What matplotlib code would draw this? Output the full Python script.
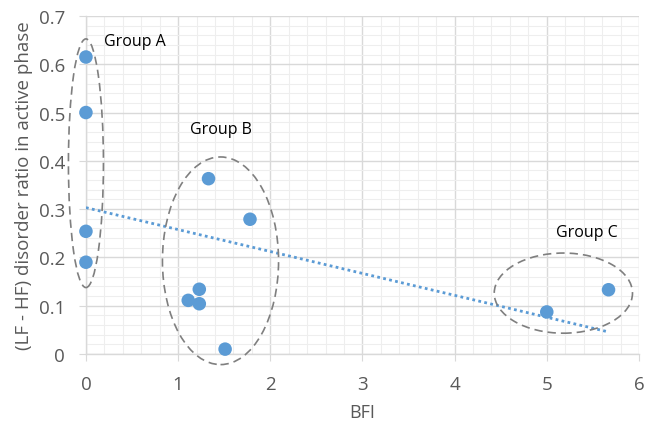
import numpy as np
import matplotlib
matplotlib.use("Agg")
import matplotlib.pyplot as plt
from matplotlib.patches import Ellipse

plt.rcParams['font.family'] = ['Open Sans', 'DejaVu Sans']

bfi = [0, 0, 0, 0, 1.33, 1.78, 1.11, 1.23, 1.23, 1.51, 5.0, 5.67]
ratio = [0.615, 0.50, 0.254, 0.19, 0.363, 0.279, 0.111, 0.134, 0.104, 0.010, 0.087, 0.133]

group_labels = ["Group A", "Group B", "Group C"]
group_label_pos = [(0.2, 0.648), (1.47, 0.466), (5.43, 0.253)]
group_ellipses = [(0.0, 0.395, 0.38, 0.515), (1.46, 0.193, 1.26, 0.43), (5.18, 0.126, 1.5, 0.166)]

blue = "#5B9BD5"
gray_text = "#595959"

fig = plt.figure(figsize=(6.56, 4.35), dpi=100)
ax = fig.add_axes([0.131, 0.184, 0.843, 0.777])

ax.set_xlim(0, 6)
ax.set_ylim(0, 0.7)
ax.set_xticks(np.arange(0, 7, 1))
ax.set_xticks(np.arange(0, 6.01, 0.2), minor=True)
ax.set_yticks(np.arange(0, 0.71, 0.1))
ax.set_yticks(np.arange(0, 0.701, 0.02), minor=True)
ax.set_xticklabels([str(i) for i in range(7)])
ax.set_yticklabels(["0", "0.1", "0.2", "0.3", "0.4", "0.5", "0.6", "0.7"])
ax.grid(which='major', color="#D9D9D9", linewidth=1.0)
ax.grid(which='minor', color="#EEEEEE", linewidth=0.8)
ax.set_axisbelow(True)
for s in ['top', 'right']:
    ax.spines[s].set_visible(False)
for s in ['left', 'bottom']:
    ax.spines[s].set_color("#D9D9D9")
    ax.spines[s].set_linewidth(1.0)
ax.tick_params(which='major', length=5, color="#D9D9D9", labelcolor=gray_text, labelsize=13.5)
ax.tick_params(axis='x', which='major', pad=10)
ax.tick_params(axis='y', which='major', pad=10)
ax.tick_params(which='minor', length=0)

# trendline (least squares)
k, b = np.polyfit(bfi, ratio, 1)
xt = np.array([0, max(bfi)])
ax.plot(xt, k * xt + b, linestyle=(0, (1, 1.2)), color=blue, linewidth=2, zorder=3)

ax.scatter(bfi, ratio, s=95, color=blue, zorder=4, clip_on=False, edgecolors='none')

for (cx, cy, w, h) in group_ellipses:
    e = Ellipse((cx, cy), w, h, fill=False, edgecolor="#7F7F7F", linestyle=(0, (5, 3)),
                linewidth=1.2, clip_on=False, zorder=5)
    ax.add_patch(e)

ax.text(group_label_pos[0][0], group_label_pos[0][1], group_labels[0], ha='left', va='center', fontsize=11.5, color='black')
ax.text(group_label_pos[1][0], group_label_pos[1][1], group_labels[1], ha='center', va='center', fontsize=11.5, color='black')
ax.text(group_label_pos[2][0], group_label_pos[2][1], group_labels[2], ha='center', va='center', fontsize=11.5, color='black')

ax.set_xlabel("BFI", fontsize=13, color=gray_text)
ax.xaxis.set_label_coords(0.5, -0.145)
ax.set_ylabel("(LF - HF) disorder ratio in active phase", fontsize=13.5, color=gray_text)
ax.yaxis.set_label_coords(-0.095, 0.5)

fig.savefig("out.png", dpi=100)
